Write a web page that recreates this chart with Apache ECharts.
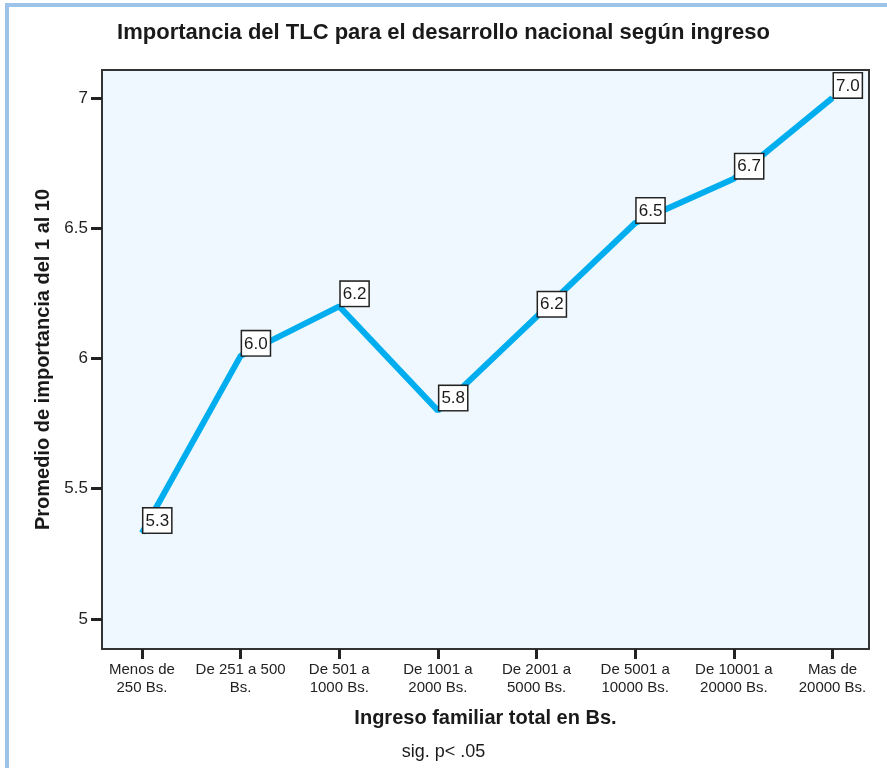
<!DOCTYPE html>
<html>
<head>
<meta charset="utf-8">
<script src="https://cdn.jsdelivr.net/npm/echarts@6/dist/echarts.min.js"></script>
<style>
  html, body { margin: 0; padding: 0; background: #fff; }
  #frame { position: absolute; left: 5px; top: 3px; width: 900px; height: 800px;
           border-left: 4px solid #9dc3e8; border-top: 4px solid #9dc3e8; }
  #main { position: absolute; left: 0; top: 0; width: 887px; height: 768px; }
</style>
</head>
<body>
<div id="frame"></div>
<div id="main"></div>
<script>
// categorias del eje x
var categorias = ['Menos de\n250 Bs.', 'De 251 a 500\nBs.', 'De 501 a\n1000 Bs.', 'De 1001 a\n2000 Bs.',
                  'De 2001 a\n5000 Bs.', 'De 5001 a\n10000 Bs.', 'De 10001 a\n20000 Bs.', 'Mas de\n20000 Bs.'];
// promedio de importancia (1 al 10)
var promedios = [5.33, 6.01, 6.2, 5.8, 6.16, 6.52, 6.69, 7.0];
// marcas del eje y
var ticksY = [5, 5.5, 6, 6.5, 7];
var ticksX = categorias.map(function (c, i) { return i; });

var fuente = "'Liberation Sans', Arial, sans-serif";
var chart = echarts.init(document.getElementById('main'));

var option = {
    animation: false,
    title: [{
        text: 'Importancia del TLC para el desarrollo nacional según ingreso',
        left: 'center',
        top: 17,
        textStyle: { fontFamily: fuente, fontSize: 22, fontWeight: 'bold', color: '#1a1a1a' }
    }, {
        text: 'sig. p< .05',
        left: 'center',
        top: 738,
        textStyle: { fontFamily: fuente, fontSize: 18, fontWeight: 'normal', color: '#1a1a1a' }
    }],
    grid: {
        left: 102, right: 18, top: 70, bottom: 119,
        show: true,
        backgroundColor: '#eef8fe',
        borderColor: '#333',
        borderWidth: 2
    },
    xAxis: {
        type: 'value',
        min: -0.405,
        max: 7.37,
        name: 'Ingreso familiar total en Bs.',
        nameLocation: 'middle',
        nameGap: 59,
        nameTextStyle: { fontFamily: fuente, fontSize: 20, fontWeight: 'bold', color: '#1a1a1a' },
        axisLine: { show: false, onZero: false },
        splitLine: { show: false },
        axisTick: { show: true, customValues: ticksX, length: 10, lineStyle: { color: '#222', width: 3 } },
        axisLabel: {
            customValues: ticksX,
            margin: 12,
            fontFamily: fuente, fontSize: 15, lineHeight: 18, color: '#222',
            formatter: function (v) { return categorias[Math.round(v)]; }
        }
    },
    yAxis: {
        type: 'value',
        min: 4.885,
        max: 7.107,
        name: 'Promedio de importancia del 1 al 10',
        nameLocation: 'middle',
        nameGap: 43,
        nameTextStyle: { fontFamily: fuente, fontSize: 20, fontWeight: 'bold', color: '#1a1a1a' },
        axisLine: { show: false, onZero: false },
        splitLine: { show: false },
        axisTick: { show: true, customValues: ticksY, length: 11, lineStyle: { color: '#222', width: 3 } },
        axisLabel: {
            customValues: ticksY,
            margin: 14,
            fontFamily: fuente, fontSize: 17, color: '#222'
        }
    },
    series: [{
        type: 'line',
        data: promedios.map(function (v, i) { return [i, v]; }),
        symbol: 'circle',
        symbolSize: 1,
        itemStyle: { color: '#00aeef' },
        lineStyle: { color: '#00aeef', width: 6 },
        label: {
            show: true,
            position: [2, -24],
            fontFamily: fuente,
            fontSize: 17,
            color: '#1a1a1a',
            backgroundColor: '#fff',
            borderColor: '#222',
            borderWidth: 1.5,
            padding: [4, 2, 3, 2],
            formatter: function (p) { return p.value[1].toFixed(1); }
        }
    }]
};

chart.setOption(option);
</script>
</body>
</html>
